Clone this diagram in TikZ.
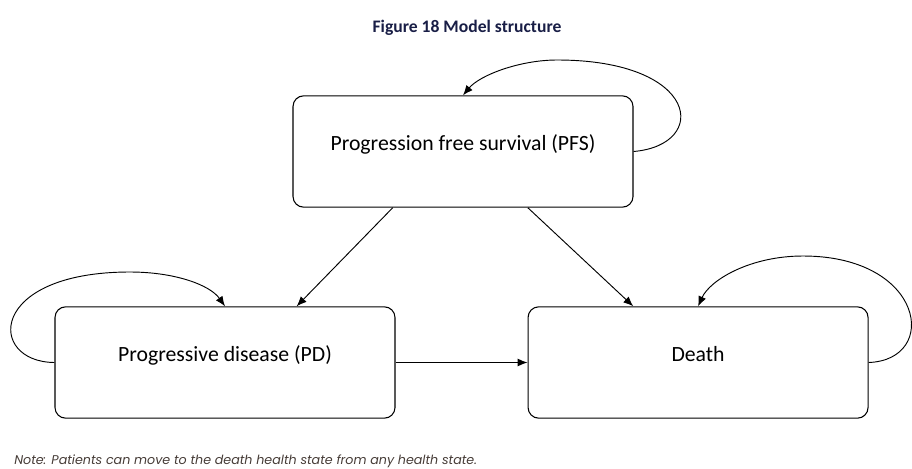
\documentclass[tikz,border=0pt]{standalone}
\usepackage{fontspec}
\setmainfont{Carlito}
\newfontfamily\notefont{Poppins}
\usetikzlibrary{positioning,calc,arrows.meta}
\definecolor{titleblue}{RGB}{25,30,70}
\definecolor{notegray}{RGB}{70,60,55}

\begin{document}
\begin{tikzpicture}[x=0.75pt, y=-0.75pt, >={Latex[length=7.5pt,width=6pt]},
    state/.style = {draw, line width=0.8pt, rounded corners=8pt, minimum width=255pt,
      minimum height=83.5pt, font=\fontsize{16.3}{18}\selectfont, text height=12pt, text depth=14pt},
    link/.style = {->, line width=0.7pt}
    ]
    \useasboundingbox (0,0) rectangle (912,468);
    \node[font=\bfseries\fontsize{13.2}{15}\selectfont, text=titleblue] (title) at (467,28) {Figure 18 Model structure};

    \node[state] (pfs) at (463,151.5) {Progression free survival (PFS)};
    \node[state] (pd) at (225,362.5) {Progressive disease (PD)};
    \node[state] (death) [right=99pt of pd] {Death};

    \draw[link] ($(pfs.south west)!0.294!(pfs.south east)$) -- ($(pd.north west)!0.71!(pd.north east)$);
    \draw[link] ($(pfs.south west)!0.69!(pfs.south east)$) -- ($(death.north west)!0.31!(death.north east)$);
    \draw[link] (pd) -- (death);

    % self loops
    \draw[link] (pfs.east) .. controls (710,145) and (700,60) .. (557,60) .. controls (520,60) and (480,75) .. (pfs.north);
    \draw[link] (pd.west) .. controls (-13,362) and (-13,272) .. (130,272) .. controls (175,272) and (210,285) .. (pd.north);
    \draw[link] (death.east) .. controls (940,360) and (925,256) .. (803,256) .. controls (750,256) and (710,280) .. (death.north);

    \node[anchor=west, font=\notefont\itshape\fontsize{9.5}{11}\selectfont, text=notegray, inner sep=0pt] (note) at (14,461)
      {Note: Patients can move to the death health state from any health state.};
\end{tikzpicture}
\end{document}
